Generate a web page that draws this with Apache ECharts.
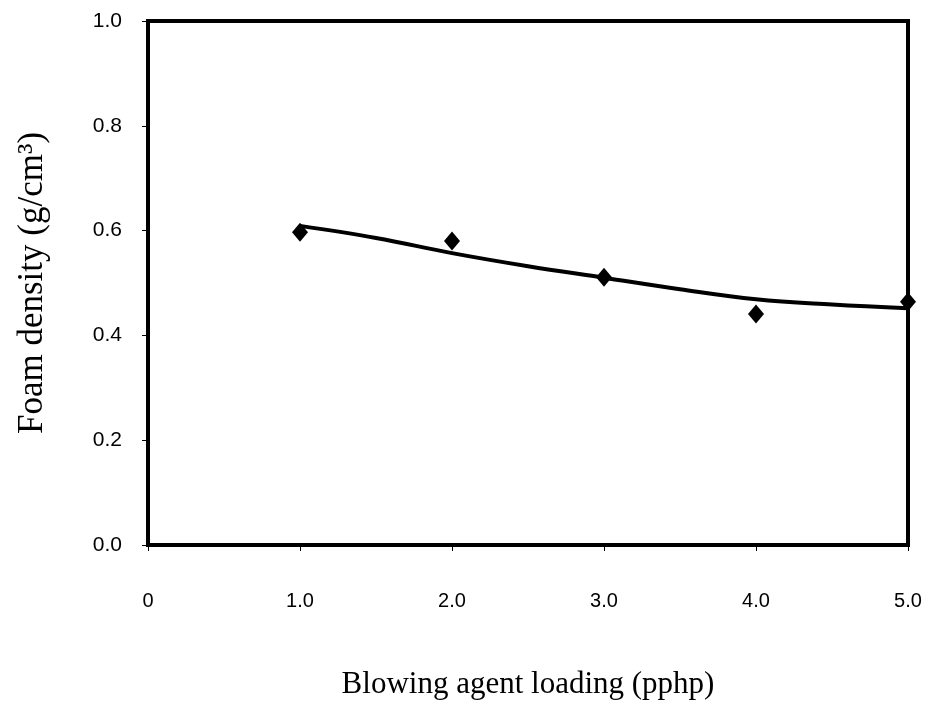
<!DOCTYPE html>
<html>
<head>
<meta charset="utf-8">
<script src="https://cdn.jsdelivr.net/npm/echarts@6/dist/echarts.min.js"></script>
<style>
  html, body { margin: 0; padding: 0; background: #fff; }
  #chart { width: 936px; height: 714px; }
</style>
</head>
<body>
<div id="chart"></div>
<script>
// measured points (diamonds)
const loading = [1, 2, 3, 4, 5]
const density = [0.597, 0.580, 0.511, 0.441, 0.464]

// fitted curve
const fitX = [1, 1.5, 2, 2.5, 3, 3.5, 4, 4.5, 5]
const fitY = [0.609, 0.586, 0.557, 0.532, 0.510, 0.488, 0.469, 0.459, 0.452]

const xTicks = ['0', '1.0', '2.0', '3.0', '4.0', '5.0']

const chart = echarts.init(document.getElementById('chart'))

const option = {
  backgroundColor: '#fff',
  animation: false,
  grid: {
    left: 148, right: 28, top: 21, bottom: 169,
    show: true, borderColor: '#000', borderWidth: 4
  },
  xAxis: {
    type: 'value', min: 0, max: 5, interval: 1,
    name: 'Blowing agent loading (pphp)',
    nameLocation: 'middle', nameGap: 124,
    nameTextStyle: { fontFamily: 'Liberation Serif', fontSize: 31, color: '#000' },
    axisLine: { show: true, lineStyle: { color: '#000', width: 4 } },
    axisTick: { show: true, length: 6, lineStyle: { color: '#000', width: 1 } },
    axisLabel: {
      margin: 46, fontFamily: 'Liberation Sans', fontSize: 20, color: '#000',
      formatter: v => xTicks[Math.round(v)]
    },
    splitLine: { show: false }
  },
  yAxis: {
    type: 'value', min: 0, max: 1, interval: 0.2,
    name: 'Foam density (g/cm³)',
    nameLocation: 'middle', nameGap: 98,
    nameTextStyle: { fontFamily: 'Liberation Serif', fontSize: 35, color: '#000' },
    axisLine: { show: true, lineStyle: { color: '#000', width: 4 } },
    axisTick: { show: true, length: 6, lineStyle: { color: '#000', width: 1 } },
    axisLabel: {
      margin: 26, fontFamily: 'Liberation Sans', fontSize: 21, color: '#000',
      formatter: v => v.toFixed(1)
    },
    splitLine: { show: false }
  },
  series: [
    {
      type: 'line',
      data: fitX.map((x, i) => [x, fitY[i]]),
      smooth: 0.4,
      symbol: 'none',
      lineStyle: { color: '#000', width: 4 },
      z: 2
    },
    {
      type: 'scatter',
      data: loading.map((x, i) => [x, density[i]]),
      symbol: 'diamond',
      symbolSize: [16, 19],
      itemStyle: { color: '#000', opacity: 1 },
      z: 3
    }
  ]
}

chart.setOption(option)
</script>
</body>
</html>
